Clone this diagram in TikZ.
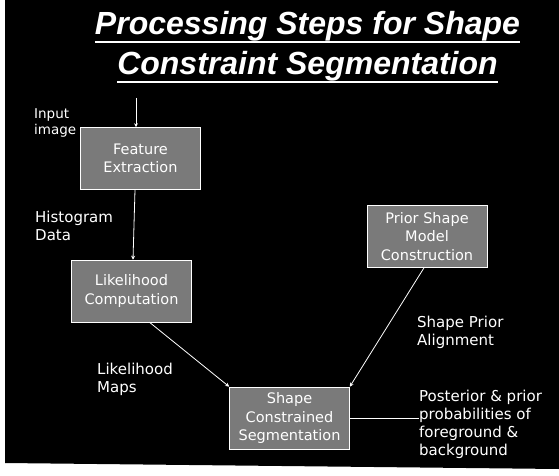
\documentclass[tikz,border=0pt]{standalone}
\usepackage{fontspec}
\setmainfont{DejaVu Sans}
\newfontfamily\titlefont{Liberation Sans}
\usetikzlibrary{arrows.meta}
\begin{document}
\begin{tikzpicture}[x=1pt,y=-1pt,
  lbl/.style={text=white, font=\fontsize{15}{17.7}\selectfont, align=left, inner sep=0pt, anchor=base west},
  titletext/.style={text=white, font=\titlefont\bfseries\itshape\fontsize{32}{40}\selectfont, inner sep=0pt, anchor=base},
  uline/.style={draw=white, line width=2pt},
  stepbox/.style={fill=black!52, draw=white!75, line width=0.6pt, minimum width=120pt, minimum height=62pt, inner sep=0pt, text=white!92, font=\fontsize{14.5}{18.5}\selectfont, align=center},
  conn/.style={draw=white!85, line width=0.8pt},
  arr/.style={conn, -{Stealth[length=4pt,width=4pt]}}]
\useasboundingbox (0,0) rectangle (559,476);
\fill[white] (0,0) rectangle (559,476);
\fill[black] (5,-2) -- (559,-2) -- (559,469) -- (5,463) -- cycle;
% title
\node[titletext] (t1) at (307.5,35) {Processing Steps for Shape};
\node[titletext] (t2) at (307.5,75) {Constraint Segmentation};
\draw[uline] ([yshift=-7pt]t1.base west) -- ([yshift=-7pt]t1.base east);
\draw[uline] ([yshift=-7pt]t2.base west) -- ([yshift=-7pt]t2.base east);
% boxes
\node[stepbox] (fe) at (140.5,158.5) {Feature\\Extraction};
\node[stepbox] (lc) at (131.5,291) {Likelihood\\Computation};
\node[stepbox] (ps) at (427,236.5) {Prior Shape\\Model\\Construction};
\node[stepbox] (scs) at (289.5,418) {Shape\\Constrained\\Segmentation};
% labels (anchored at the baseline of their last line)
\node[lbl, font=\fontsize{13.5}{17}\selectfont] (inp) at (34,135) {Input\\image};
\node[lbl] (hist) at (35,240) {Histogram\\Data};
\node[lbl] (lm) at (97,392) {Likelihood\\Maps};
\node[lbl] (spa) at (417,345) {Shape Prior\\Alignment};
\node[lbl] (post) at (419,455) {Posterior \& prior\\probabilities of\\foreground \&\\background};
% connectors
\coordinate (in) at (136,98);
\draw[arr] (in) -- (in |- fe.north);
\draw[arr] ([xshift=-5.5pt]fe.south) -- ([xshift=1.5pt]lc.north);
\draw[arr] ([xshift=18pt]lc.south) -- (scs.north west);
\draw[arr] ([xshift=-3pt]ps.south) -- (scs.north east);
\draw[conn] (scs.east) -- (scs.east -| post.west);
\end{tikzpicture}
\end{document}
